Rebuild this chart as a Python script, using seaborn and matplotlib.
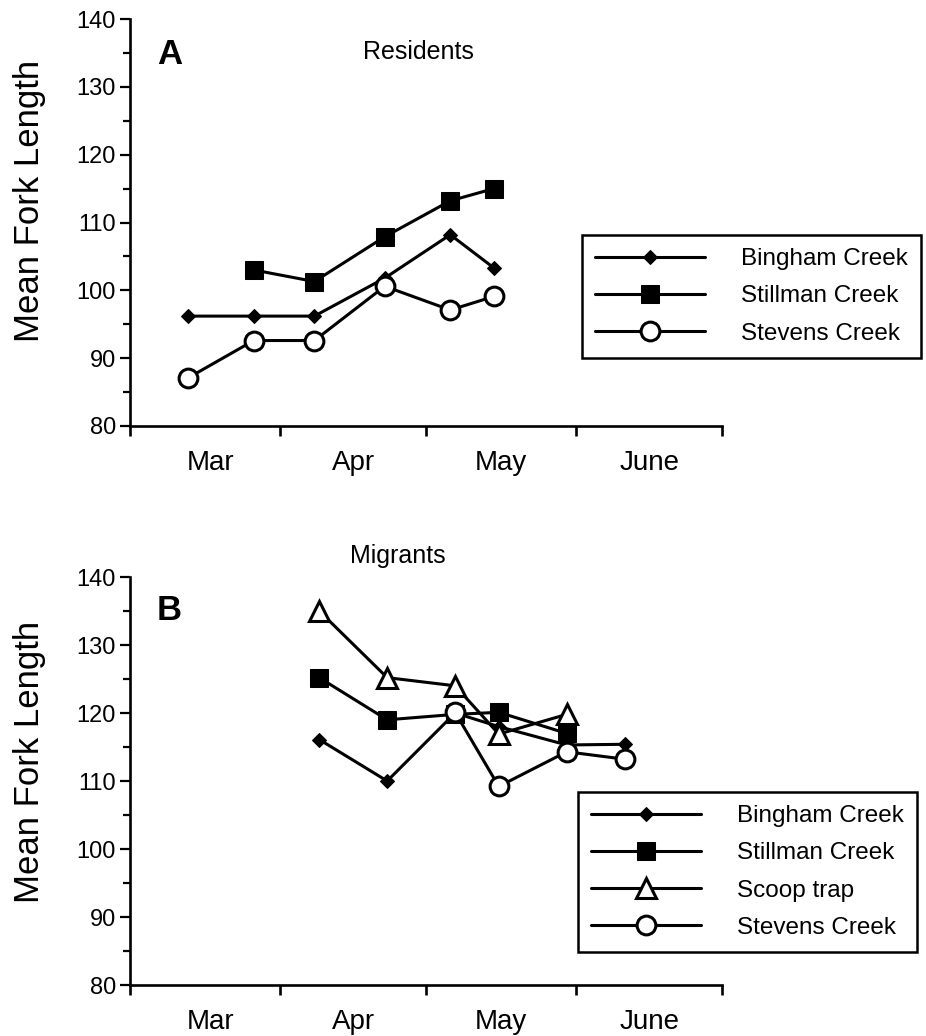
import matplotlib
matplotlib.use("Agg")
import matplotlib.pyplot as plt
import seaborn as sns
import numpy as np

sns.set_theme(style="white")
plt.rcParams['font.family'] = ['Liberation Sans', 'DejaVu Sans']
plt.rcParams.update({"text.color": "black", "axes.labelcolor": "black",
                     "xtick.color": "black", "ytick.color": "black",
                     "axes.edgecolor": "black"})

# ---- data (x = days since March 1) ----
months = ["Mar", "Apr", "May", "June"]
month_bounds = [0, 31, 61, 92, 122]
month_label_pos = [16.5, 46, 76.5, 107]

# Panel A: Residents
a_bingham_x = [12, 25.5, 38, 52.5, 66, 75]
a_bingham_y = [96.2, 96.2, 96.2, 101.8, 108.2, 103.3]
a_stillman_x = [25.5, 38, 52.5, 66, 75]
a_stillman_y = [103.0, 101.3, 107.9, 113.2, 115.0]
a_stevens_x = [12, 25.5, 38, 52.5, 66, 75]
a_stevens_y = [87.1, 92.6, 92.6, 100.6, 97.1, 99.1]

# Panel B: Migrants
b_bingham_x = [39, 53, 67, 76, 90, 102]
b_bingham_y = [116.1, 110.0, 120.0, 118.0, 115.3, 115.4]
b_stillman_x = [39, 53, 67, 76, 90]
b_stillman_y = [125.2, 119.0, 119.8, 120.1, 117.0]
b_scoop_x = [39, 53, 67, 76, 90]
b_scoop_y = [135.0, 125.2, 124.0, 116.9, 119.8]
b_stevens_x = [67, 76, 90, 102]
b_stevens_y = [120.1, 109.2, 114.3, 113.2]

W, H = 926, 1036
fig = plt.figure(figsize=(W / 100, H / 100), dpi=100)
fig.patch.set_facecolor("white")

def px(x0, y0, x1, y1):
    return [x0 / W, 1 - y1 / H, (x1 - x0) / W, (y1 - y0) / H]

axA = fig.add_axes(px(130, 19, 722, 426))
axB = fig.add_axes(px(130, 577, 722, 985))

LW = 2.2
styles = {
    "Bingham Creek": dict(marker="D", markersize=7.5, markerfacecolor="black"),
    "Stillman Creek": dict(marker="s", markersize=13, markerfacecolor="black"),
    "Scoop trap": dict(marker="^", markersize=15, markerfacecolor="white", markeredgewidth=2.2),
    "Stevens Creek": dict(marker="o", markersize=13.5, markerfacecolor="white", markeredgewidth=2.2),
}

def draw(ax, x, y, name):
    st = styles[name]
    sns.lineplot(x=x, y=y, ax=ax, color="black", linewidth=LW, errorbar=None,
                 markeredgecolor="black", legend=False, **st)
    line = ax.lines[-1]
    line.set_label(name)
    line.set_clip_on(False)
    return line

hA = [draw(axA, a_bingham_x, a_bingham_y, "Bingham Creek"),
      draw(axA, a_stillman_x, a_stillman_y, "Stillman Creek"),
      draw(axA, a_stevens_x, a_stevens_y, "Stevens Creek")]

hB = [draw(axB, b_bingham_x, b_bingham_y, "Bingham Creek"),
      draw(axB, b_stillman_x, b_stillman_y, "Stillman Creek"),
      draw(axB, b_scoop_x, b_scoop_y, "Scoop trap"),
      draw(axB, b_stevens_x, b_stevens_y, "Stevens Creek")]

for ax in (axA, axB):
    ax.set_xlim(0, 122)
    ax.set_ylim(80, 140)
    ax.set_facecolor("white")
    for s in ("top", "right"):
        ax.spines[s].set_visible(False)
    for s in ("left", "bottom"):
        ax.spines[s].set_color("black")
        ax.spines[s].set_linewidth(1.9)
    ax.set_xticks(month_bounds)
    ax.set_xticklabels([])
    ax.set_xticks(month_label_pos, minor=True)
    ax.set_xticklabels(months, minor=True, fontsize=20, color="black")
    ax.tick_params(axis="x", which="major", direction="out", length=7, width=1.9,
                   color="black", bottom=True)
    ax.tick_params(axis="x", which="minor", length=0, pad=17, labelcolor="black", bottom=True)
    ax.set_yticks(np.arange(80, 141, 10))
    ax.set_yticks(np.arange(85, 140, 10), minor=True)
    ax.tick_params(axis="y", which="major", direction="out", length=7, width=1.6,
                   labelsize=17, pad=3, color="black", labelcolor="black", left=True)
    ax.tick_params(axis="y", which="minor", direction="out", length=5, width=1.6,
                   color="black", left=True)
    ax.set_xlabel("")
    ax.set_ylabel("")
    ax.grid(False)

leg_kw = dict(loc="upper left", bbox_transform=fig.transFigure, borderaxespad=0,
              fontsize=17.5, handlelength=4.5, handletextpad=1.5, labelspacing=0.62,
              borderpad=0.55, fancybox=False, framealpha=1, edgecolor="black",
              labelcolor="black")
legA = axA.legend(handles=hA, bbox_to_anchor=(582 / W, 1 - 235 / H), **leg_kw)
legB = axB.legend(handles=hB, bbox_to_anchor=(578 / W, 1 - 792 / H), **leg_kw)
for lg in (legA, legB):
    lg.get_frame().set_linewidth(1.8)
    lg.set_clip_on(False)

# panel texts
fig.text(157 / W, 1 - 55 / H, "A", fontsize=25, fontweight="bold", ha="left", va="center", color="black")
fig.text(418 / W, 1 - 52 / H, "Residents", fontsize=18, ha="center", va="center", color="black")
fig.text(157 / W, 1 - 611 / H, "B", fontsize=25, fontweight="bold", ha="left", va="center", color="black")
fig.text(398 / W, 1 - 556 / H, "Migrants", fontsize=18, ha="center", va="center", color="black")
fig.text(30 / W, 1 - 201 / H, "Mean Fork Length", fontsize=25, rotation=90, ha="center", va="center", color="black")
fig.text(30 / W, 1 - 762 / H, "Mean Fork Length", fontsize=25, rotation=90, ha="center", va="center", color="black")

fig.savefig("out.png", dpi=100, facecolor="white")
